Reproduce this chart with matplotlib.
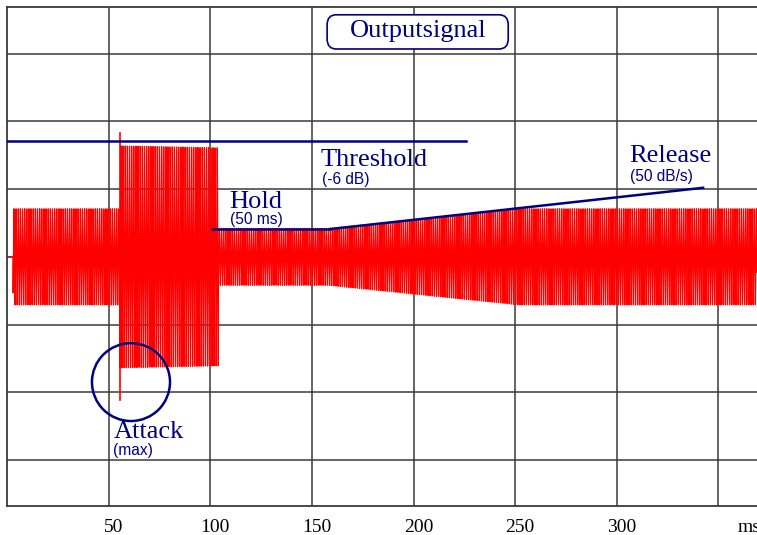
import numpy as np
import matplotlib
matplotlib.use('Agg')
import matplotlib.pyplot as plt
from matplotlib.patches import Ellipse, FancyBboxPatch

# 包络关键点 (ms, 幅度)
env_t = [0, 3.0, 3.01, 55.5, 55.51, 104.0, 104.01, 158.0, 252.0, 370.0]
env_a = [0, 0, 0.71, 0.71, 1.64, 1.61, 0.42, 0.42, 0.71, 0.71]
carrier_hz = 950
# Attack 尖峰
spike_t = [55.7, 55.7]
spike_y = [1.83, -2.11]
# 标注线
thresh_x = [0, 226]
thresh_y = [1.71, 1.71]
hold_x = [101, 159]
hold_y = [0.41, 0.41]
release_x = [159, 342.5]
release_y = [0.41, 1.02]
tick_vals = [50, 100, 150, 200, 250, 300]
tick_labels = ['50', '100', '150', '200', '250', '300']

navy = '#000080'
gridc = '#3a3a3a'

t = np.arange(0, 370, 1 / 44.1)
env = np.interp(t, env_t, env_a)
sig = env * np.sin(2 * np.pi * carrier_hz * t / 1000)

fig = plt.figure(figsize=(7.57, 5.35), dpi=100)
ax = fig.add_axes([7 / 757, 1 - 506 / 535, 1 - 7 / 757, 499 / 535])
ax.set_xlim(0, 369)
ax.set_ylim(-3.68, 3.69)

# 网格
for x in [50, 100, 150, 200, 250, 300, 350]:
    ax.axvline(x, color=gridc, lw=1.1, zorder=1)
for y in [-3, -2, -1, 0, 1, 2, 3]:
    ax.axhline(y, color=gridc, lw=1.1, zorder=1)
for s in ['left', 'top', 'bottom']:
    ax.spines[s].set_color(gridc)
    ax.spines[s].set_linewidth(1.3)
ax.spines['right'].set_visible(False)
ax.set_xticks([])
ax.set_yticks([])

# 信号
ax.plot(t, sig, color='#ff0000', lw=0.9, zorder=2)
ax.plot(spike_t, spike_y, color='#ff0000', lw=1.2, zorder=2)

# 标注
ax.plot(thresh_x, thresh_y, color=navy, lw=1.8, zorder=3)
ax.plot(hold_x, hold_y, color=navy, lw=1.8, zorder=3)
ax.plot(release_x, release_y, color=navy, lw=1.8, zorder=3)
ax.add_patch(Ellipse((61, -1.85), 38.4, 1.15, fill=False, edgecolor=navy, lw=1.8, zorder=3))

serif = 'Liberation Serif'
sans = 'Liberation Sans'
big, small = 19, 11.2
ax.text(154.3, 1.34, 'Threshold', color=navy, family=serif, fontsize=big, va='baseline')
ax.text(155, 1.08, '(-6 dB)', color=navy, family=sans, fontsize=small, va='baseline')
ax.text(109.5, 0.72, 'Hold', color=navy, family=serif, fontsize=big, va='baseline')
ax.text(109.7, 0.49, '(50 ms)', color=navy, family=sans, fontsize=small, va='baseline')
ax.text(306.3, 1.40, 'Release', color=navy, family=serif, fontsize=big, va='baseline')
ax.text(306.5, 1.12, '(50 dB/s)', color=navy, family=sans, fontsize=small, va='baseline')
ax.text(52.5, -2.67, 'Attack', color=navy, family=serif, fontsize=big, va='baseline')
ax.text(52, -2.93, '(max)', color=navy, family=sans, fontsize=small, va='baseline')

# 标题框
ax.add_patch(FancyBboxPatch((157.5, 3.07), 89.1, 0.505,
                            boxstyle='round,pad=0,rounding_size=4.5', mutation_aspect=0.033,
                            fc='white', ec=navy, lw=1.2, zorder=4))
ax.text(202.3, 3.33, 'Outputsignal', color=navy, family=serif, fontsize=19,
        ha='center', va='center', zorder=5)

# x 轴标签
for v, lab in zip(tick_vals, tick_labels):
    ax.text(v + 2.5, -3.68 - 0.19, lab, family=serif, fontsize=14, ha='center', va='top', clip_on=False)
ax.text(359.5, -3.68 - 0.19, 'ms', family=serif, fontsize=14, ha='left', va='top', clip_on=False)

fig.savefig('out.png', dpi=100)
